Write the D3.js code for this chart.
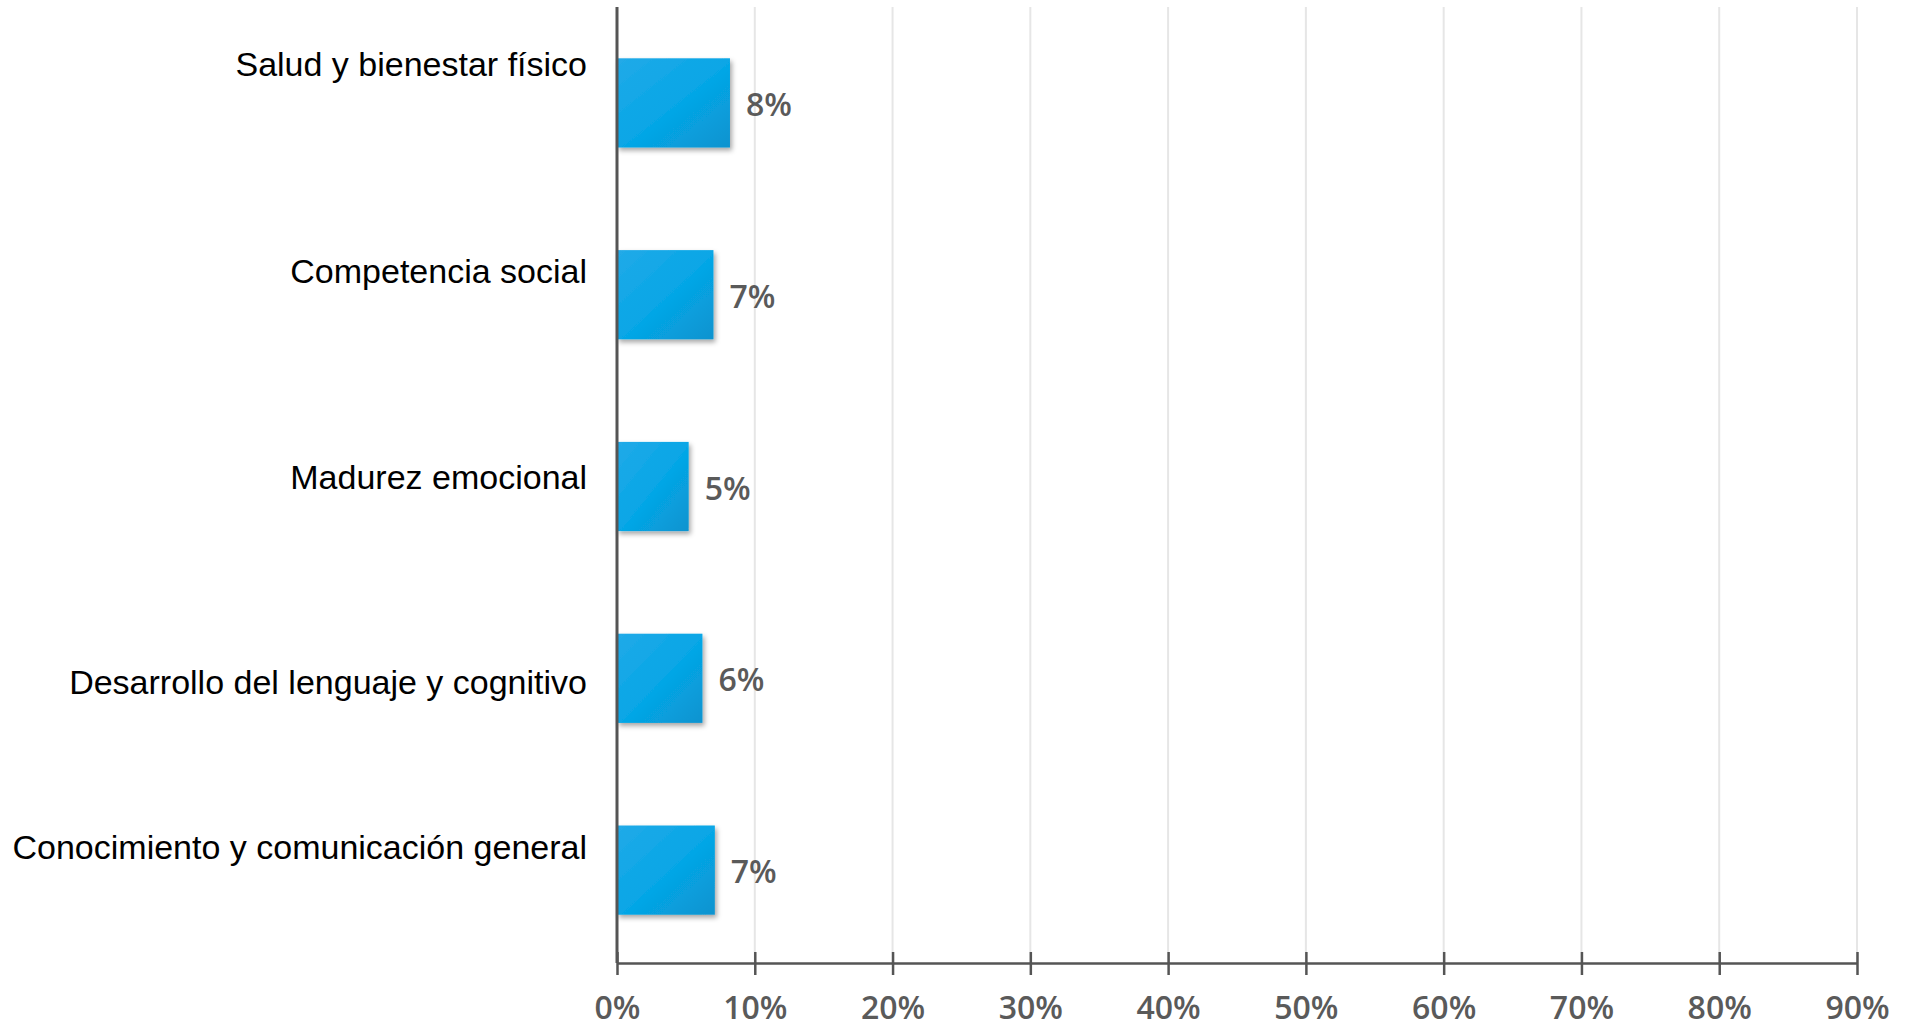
<!DOCTYPE html>
<html>
<head>
<meta charset="utf-8">
<script src="https://cdn.jsdelivr.net/npm/d3@7"></script>
<style>
  body { margin: 0; background: #fff; }
  svg { display: block; }
  .cat { font-family: "Liberation Sans", Arial, sans-serif; font-size: 34px; fill: #000; }
  .val, .tick-label { font-family: "Open Sans", sans-serif; font-size: 32px; font-weight: 600; fill: #5a5a5a; }
</style>
</head>
<body>
<div id="chart"></div>
<script>
var width = 1916,
    height = 1030;

var categories = [
    'Salud y bienestar físico',
    'Competencia social',
    'Madurez emocional',
    'Desarrollo del lenguaje y cognitivo',
    'Conocimiento y comunicación general'
];
var values = [0.082, 0.07, 0.052, 0.062, 0.071];
var ticks = [0, 0.1, 0.2, 0.3, 0.4, 0.5, 0.6, 0.7, 0.8, 0.9];

// the category labels do not sit evenly against the bars in the original
var catLabelShift = [-27, -12, 2, 16, -11];

var x0 = 617, x1 = 1857, yTop = 7, yAxis = 963;

var svg = d3.select('#chart')
    .append('svg')
    .attr('width', width)
    .attr('height', height);

var defs = svg.append('defs');

var grad = defs.append('linearGradient')
    .attr('id', 'barGrad')
    .attr('x1', '0%').attr('y1', '0%')
    .attr('x2', '100%').attr('y2', '100%');
grad.append('stop').attr('offset', '0%').attr('stop-color', '#22aae8');
grad.append('stop').attr('offset', '55%').attr('stop-color', '#05a6e6');
grad.append('stop').attr('offset', '100%').attr('stop-color', '#0a93cf');

var shadow = defs.append('filter')
    .attr('id', 'shadow')
    .attr('x', '-10%').attr('y', '-10%')
    .attr('width', '130%').attr('height', '130%');
shadow.append('feDropShadow')
    .attr('dx', 2).attr('dy', 3)
    .attr('stdDeviation', 2.5)
    .attr('flood-color', '#000')
    .attr('flood-opacity', 0.35);

var x = d3.scaleLinear()
    .domain([0, 0.9])
    .range([x0, x1]);

var y = d3.scaleBand()
    .domain(categories)
    .range([yTop, yAxis + 3])
    .paddingInner(0.535)
    .paddingOuter(0.2675);

var data = categories.map((c, i) => ({ name: c, value: values[i], shift: catLabelShift[i] }));

// gridlines
svg.append('g')
    .selectAll('line')
    .data(ticks.slice(1))
    .enter()
    .append('line')
    .attr('x1', d => x(d))
    .attr('x2', d => x(d))
    .attr('y1', yTop)
    .attr('y2', yAxis)
    .attr('stroke', '#e6e6e6')
    .attr('stroke-width', 2);

// bars
svg.append('g')
    .selectAll('rect')
    .data(data)
    .enter()
    .append('rect')
    .attr('x', x(0))
    .attr('y', d => y(d.name))
    .attr('width', d => x(d.value) - x(0))
    .attr('height', y.bandwidth())
    .attr('fill', 'url(#barGrad)')
    .attr('filter', 'url(#shadow)');

// value labels
svg.append('g')
    .selectAll('text')
    .data(data)
    .enter()
    .append('text')
    .attr('class', 'val')
    .attr('x', d => x(d.value) + 16)
    .attr('y', d => y(d.name) + y.bandwidth() / 2 + 13)
    .text(d => d3.format('.0%')(d.value));

// category labels
svg.append('g')
    .selectAll('text')
    .data(data)
    .enter()
    .append('text')
    .attr('class', 'cat')
    .attr('text-anchor', 'end')
    .attr('x', 587)
    .attr('y', d => y(d.name) + y.bandwidth() / 2 + d.shift)
    .text(d => d.name);

// x axis
var xAxis = d3.axisBottom(x)
    .tickValues(ticks)
    .tickFormat(d3.format('.0%'))
    .tickSizeInner(12)
    .tickSizeOuter(0)
    .tickPadding(21);

var ax = svg.append('g')
    .attr('transform', 'translate(0,' + yAxis + ')')
    .call(xAxis);

ax.select('.domain')
    .attr('stroke', '#555')
    .attr('stroke-width', 2.5);
ax.selectAll('.tick line')
    .attr('stroke', '#555')
    .attr('stroke-width', 2.5)
    .attr('y1', -11);
ax.selectAll('.tick text')
    .attr('class', 'tick-label')
    .attr('fill', null)
    .attr('font-size', null)
    .attr('font-family', null);

// y axis line
svg.append('line')
    .attr('x1', x0).attr('x2', x0)
    .attr('y1', yTop).attr('y2', yAxis)
    .attr('stroke', '#555')
    .attr('stroke-width', 3);
</script>
</body>
</html>
